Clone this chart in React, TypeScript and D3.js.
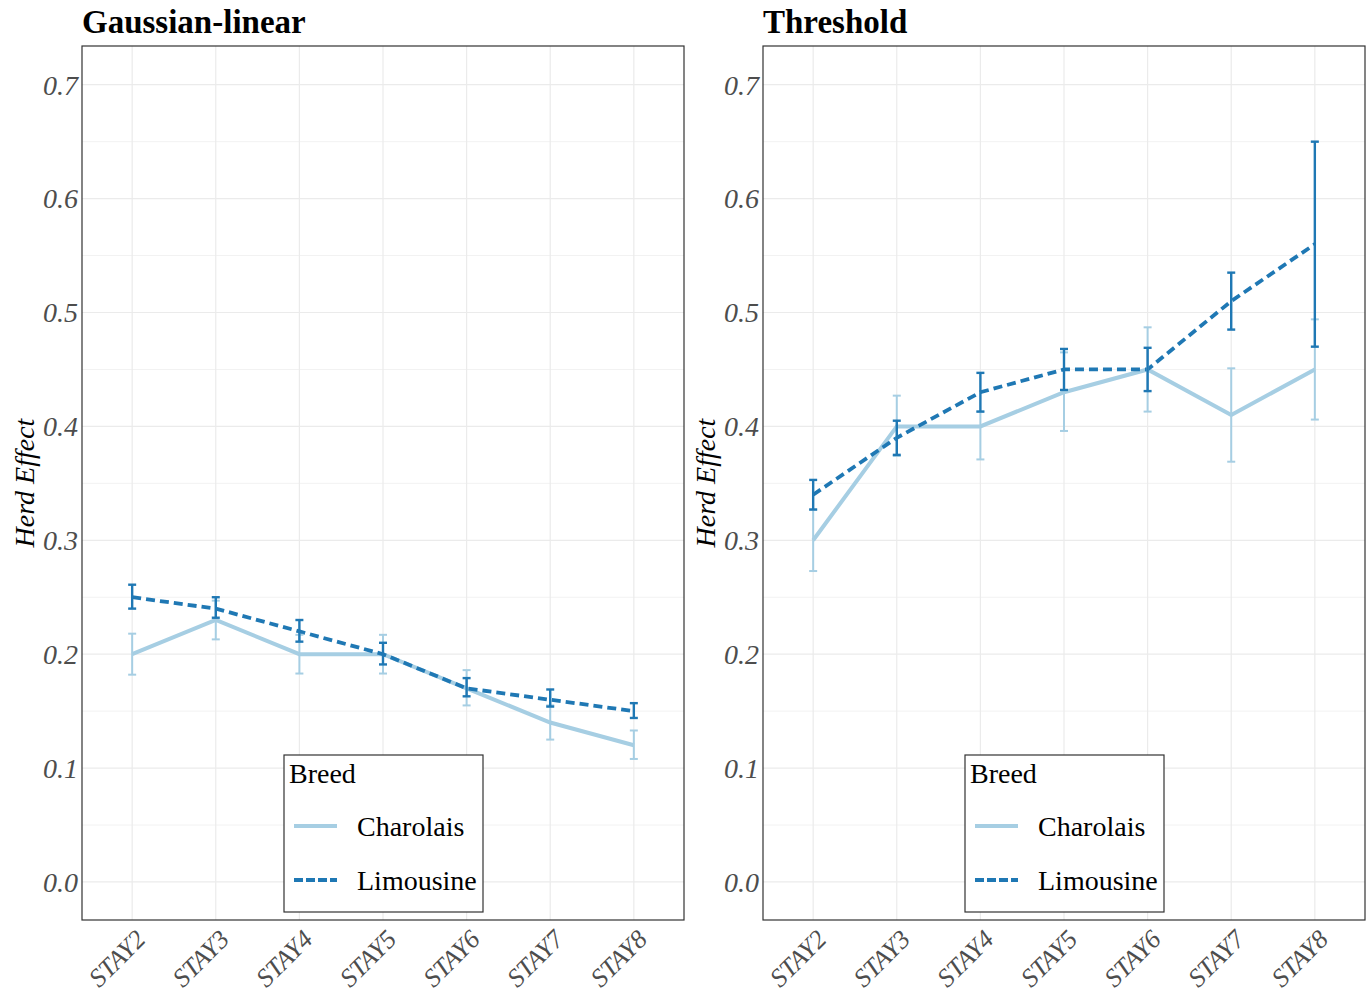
import { useEffect, useRef } from "react";
import * as d3 from "d3";

const stays = ["STAY2", "STAY3", "STAY4", "STAY5", "STAY6", "STAY7", "STAY8"];
const breeds = ["Charolais", "Limousine"];
const yTicks = [0, 0.1, 0.2, 0.3, 0.4, 0.5, 0.6, 0.7];

// Gaussian-linear
const glCharolais = [0.2, 0.23, 0.2, 0.2, 0.17, 0.14, 0.12];
const glCharolaisLo = [0.182, 0.213, 0.183, 0.183, 0.155, 0.125, 0.108];
const glCharolaisHi = [0.218, 0.247, 0.217, 0.217, 0.186, 0.155, 0.133];
const glLimousine = [0.25, 0.24, 0.22, 0.2, 0.17, 0.16, 0.15];
const glLimousineLo = [0.24, 0.232, 0.211, 0.191, 0.163, 0.154, 0.144];
const glLimousineHi = [0.261, 0.25, 0.23, 0.21, 0.179, 0.169, 0.157];

// Threshold
const thCharolais = [0.3, 0.4, 0.4, 0.43, 0.45, 0.41, 0.45];
const thCharolaisLo = [0.273, 0.374, 0.371, 0.396, 0.413, 0.369, 0.406];
const thCharolaisHi = [0.327, 0.427, 0.413, 0.465, 0.487, 0.451, 0.494];
const thLimousine = [0.34, 0.39, 0.43, 0.45, 0.45, 0.51, 0.56];
const thLimousineLo = [0.327, 0.375, 0.413, 0.432, 0.431, 0.485, 0.47];
const thLimousineHi = [0.353, 0.405, 0.447, 0.468, 0.469, 0.535, 0.65];

const colors = ["#a6cee3", "#1f78b4"];

const panels = [
  {
    title: "Gaussian-linear",
    left: 82,
    series: [
      { mean: glCharolais, lo: glCharolaisLo, hi: glCharolaisHi },
      { mean: glLimousine, lo: glLimousineLo, hi: glLimousineHi },
    ],
  },
  {
    title: "Threshold",
    left: 763,
    series: [
      { mean: thCharolais, lo: thCharolaisLo, hi: thCharolaisHi },
      { mean: thLimousine, lo: thLimousineLo, hi: thLimousineHi },
    ],
  },
];

export default function App() {
  const ref = useRef<SVGSVGElement>(null);

  useEffect(() => {
    const svg = d3.select(ref.current);
    svg.selectAll("*").remove();
    const font = "'Liberation Serif', 'Times New Roman', serif";
    const top = 46;
    const bottom = 920;
    const pw = 602;

    const y = d3.scaleLinear().domain([-0.0334, 0.734]).range([bottom, top]);

    panels.forEach((p) => {
      const x = d3
        .scalePoint<string>()
        .domain(stays)
        .range([p.left, p.left + pw])
        .padding(0.6);
      const g = svg.append("g");

      // grid
      const minor = d3.range(0.05, 0.75, 0.1);
      g.selectAll(".minor")
        .data(minor)
        .enter()
        .append("line")
        .attr("x1", p.left)
        .attr("x2", p.left + pw)
        .attr("y1", (d) => y(d))
        .attr("y2", (d) => y(d))
        .attr("stroke", "#f2f2f2")
        .attr("stroke-width", 1);
      g.selectAll(".major")
        .data(yTicks)
        .enter()
        .append("line")
        .attr("x1", p.left)
        .attr("x2", p.left + pw)
        .attr("y1", (d) => y(d))
        .attr("y2", (d) => y(d))
        .attr("stroke", "#ebebeb")
        .attr("stroke-width", 1.2);
      g.selectAll(".vgrid")
        .data(stays)
        .enter()
        .append("line")
        .attr("x1", (d) => x(d)!)
        .attr("x2", (d) => x(d)!)
        .attr("y1", top)
        .attr("y2", bottom)
        .attr("stroke", "#ebebeb")
        .attr("stroke-width", 1.2);

      // lines
      p.series.forEach((s, i) => {
        const line = d3
          .line<number>()
          .x((_, j) => x(stays[j])!)
          .y((d) => y(d));
        g.append("path")
          .attr("d", line(s.mean))
          .attr("fill", "none")
          .attr("stroke", colors[i])
          .attr("stroke-width", i === 0 ? 4 : 3.8)
          .attr("stroke-dasharray", i === 0 ? null : "9 5");
      });

      // error bars
      p.series.forEach((s, i) => {
        const eb = g.append("g").attr("stroke", colors[i]).attr("stroke-width", i === 0 ? 2 : 2.4);
        s.mean.forEach((_, j) => {
          const cx = x(stays[j])!;
          eb.append("line")
            .attr("x1", cx).attr("x2", cx)
            .attr("y1", y(s.lo[j])).attr("y2", y(s.hi[j]));
          [s.lo[j], s.hi[j]].forEach((v) => {
            eb.append("line")
              .attr("x1", cx - 4).attr("x2", cx + 4)
              .attr("y1", y(v)).attr("y2", y(v));
          });
        });
      });

      // border
      g.append("rect")
        .attr("x", p.left)
        .attr("y", top)
        .attr("width", pw)
        .attr("height", bottom - top)
        .attr("fill", "none")
        .attr("stroke", "#333333")
        .attr("stroke-width", 1.2);

      // y tick labels
      g.selectAll(".ytl")
        .data(yTicks)
        .enter()
        .append("text")
        .attr("x", p.left - 4)
        .attr("y", (d) => y(d))
        .attr("dy", "0.35em")
        .attr("text-anchor", "end")
        .attr("font-family", font)
        .attr("font-style", "italic")
        .attr("font-size", 28)
        .attr("fill", "#4d4d4d")
        .text((d) => d3.format(".1f")(d));

      // x tick labels
      g.selectAll(".xtl")
        .data(stays)
        .enter()
        .append("text")
        .attr("transform", (d) => `translate(${x(d)! + 2},${bottom + 8}) rotate(-45)`)
        .attr("text-anchor", "end")
        .attr("dy", "0.7em")
        .attr("font-family", font)
        .attr("font-style", "italic")
        .attr("font-size", 26)
        .attr("fill", "#4d4d4d")
        .text((d) => d);

      // y axis title
      g.append("text")
        .attr("transform", `translate(${p.left - 48},${(top + bottom) / 2}) rotate(-90)`)
        .attr("text-anchor", "middle")
        .attr("font-family", font)
        .attr("font-style", "italic")
        .attr("font-size", 28)
        .attr("fill", "#000")
        .text("Herd Effect");

      // title
      g.append("text")
        .attr("x", p.left)
        .attr("y", 33)
        .attr("font-family", font)
        .attr("font-weight", "bold")
        .attr("font-size", 33)
        .attr("fill", "#000")
        .text(p.title);

      // legend
      const lx = p.left + 202;
      const ly = 755;
      const lg = g.append("g");
      lg.append("rect")
        .attr("x", lx)
        .attr("y", ly)
        .attr("width", 199)
        .attr("height", 157)
        .attr("fill", "#fff")
        .attr("stroke", "#333333")
        .attr("stroke-width", 1.2);
      lg.append("text")
        .attr("x", lx + 5)
        .attr("y", ly + 28)
        .attr("font-family", font)
        .attr("font-size", 28)
        .attr("fill", "#000")
        .text("Breed");
      breeds.forEach((b, i) => {
        const yy = ly + 71 + i * 54;
        lg.append("line")
          .attr("x1", lx + 10)
          .attr("x2", lx + 53)
          .attr("y1", yy)
          .attr("y2", yy)
          .attr("stroke", colors[i])
          .attr("stroke-width", 4)
          .attr("stroke-dasharray", i === 0 ? null : "9 3");
        lg.append("text")
          .attr("x", lx + 73)
          .attr("y", yy)
          .attr("dy", "0.35em")
          .attr("font-family", font)
          .attr("font-size", 28)
          .attr("fill", "#000")
          .text(b);
      });
    });
  }, []);

  return (
    <svg
      ref={ref}
      width={1370}
      height={993}
      style={{ position: "absolute", left: 0, top: 0, background: "#fff" }}
    />
  );
}
